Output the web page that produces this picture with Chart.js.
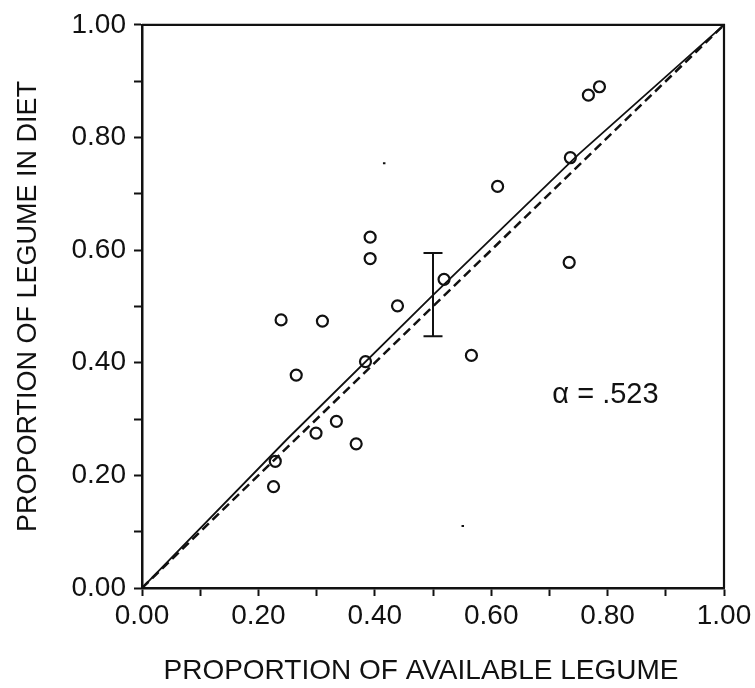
<!DOCTYPE html>
<html>
<head>
<meta charset="utf-8">
<script src="https://cdn.jsdelivr.net/npm/chart.js@4.4.1/dist/chart.umd.min.js"></script>
<style>
    body { margin:0; background:#fff; }
    #wrap { width:755px; height:688px; }
</style>
</head>
<body>
<div id="wrap"><canvas id="legumeChart" width="755" height="688"></canvas></div>
<script>

// one circle per sample: legume available vs legume in the diet
const available = [0.239, 0.310, 0.265, 0.384, 0.334, 0.299, 0.368, 0.229, 0.226, 0.439,
                   0.392, 0.392, 0.519, 0.611, 0.736, 0.767, 0.786, 0.734, 0.566]
const inDiet    = [0.476, 0.474, 0.378, 0.402, 0.296, 0.275, 0.256, 0.225, 0.180, 0.501,
                   0.623, 0.585, 0.548, 0.713, 0.764, 0.875, 0.890, 0.578, 0.413]

// solid fitted line and dashed 1:1 line
const fitX = [0, 0.25, 0.50, 0.75, 1]
const fitY = [0, 0.265, 0.52, 0.77, 1]
const equalX = [0, 1]
const equalY = [0, 1]

// mean with its error bar
const meanX = [0.50]
const barLow = [0.447]
const barHigh = [0.595]

// small stray marks on the print
const speckX = [0.414, 0.549]
const speckY = [0.754, 0.110]

const alphaText = 'α = .523'
const alphaX = 0.705
const alphaY = 0.342

const tickPositions = [0, 0.1, 0.2, 0.3, 0.4, 0.5, 0.6, 0.7, 0.8, 0.9, 1.0]
const tickLabels = ['0.00', '0.20', '0.40', '0.60', '0.80', '1.00']

const xTitle = 'PROPORTION OF AVAILABLE LEGUME'
const yTitle = 'PROPORTION OF LEGUME IN DIET'

const ink = '#111'
const fontFamily = '"Liberation Sans", Arial, Helvetica, sans-serif'

function toPoints(xs, ys) {
    return xs.map((x, i) => ({x:x, y:ys[i]}))
}

function tickLabel(value) {
    const s = Number(value).toFixed(2)
    return tickLabels.includes(s) ? s : ''
}

function axis(position, titleText) {
    const horizontal = position === 'bottom'
    return {
        type:'linear',
        position:position,
        min:0,
        max:1,
        afterBuildTicks:scale => {
            scale.ticks = tickPositions.map(v => ({value:v}))
        },
        afterFit:scale => {
            if(horizontal) {
                scale.height = 100
            } else {
                scale.width = 142
            }
        },
        grid:{
            drawOnChartArea:false,
            drawTicks:true,
            tickLength:8,
            tickWidth:2,
            tickColor:ink
        },
        border:{
            display:true,
            color:ink,
            width:2.5
        },
        ticks:{
            autoSkip:false,
            maxRotation:0,
            color:ink,
            padding:horizontal ? 3 : 8,
            font:{family:fontFamily, size:28},
            callback:tickLabel
        },
        title:{
            // the x title is drawn by the plugin below, a little left of centre
            display:!horizontal,
            text:titleText,
            color:ink,
            font:{family:fontFamily, size:27},
            padding:{top:12, bottom:0}
        }
    }
}

// closes the box on the top and right, draws the error bar, the alpha note and the x title
const extras = {
    id:'extras',
    afterDatasetsDraw(chart) {
        const {ctx, chartArea, scales:{x, y}} = chart
        ctx.save()
        ctx.strokeStyle = ink
        ctx.lineWidth = 2.2
        ctx.beginPath()
        ctx.moveTo(chartArea.left, chartArea.top)
        ctx.lineTo(chartArea.right, chartArea.top)
        ctx.lineTo(chartArea.right, chartArea.bottom)
        ctx.stroke()

        ctx.lineWidth = 2
        meanX.forEach((mx, i) => {
            const px = x.getPixelForValue(mx)
            const top = y.getPixelForValue(barHigh[i])
            const bottom = y.getPixelForValue(barLow[i])
            ctx.beginPath()
            ctx.moveTo(px, top)
            ctx.lineTo(px, bottom)
            ctx.moveTo(px - 9.5, top)
            ctx.lineTo(px + 9.5, top)
            ctx.moveTo(px - 9.5, bottom)
            ctx.lineTo(px + 9.5, bottom)
            ctx.stroke()
        })

        ctx.fillStyle = ink
        ctx.font = '29px ' + fontFamily
        ctx.textAlign = 'left'
        ctx.textBaseline = 'middle'
        ctx.fillText(alphaText, x.getPixelForValue(alphaX), y.getPixelForValue(alphaY))

        ctx.font = '28px ' + fontFamily
        ctx.textAlign = 'center'
        ctx.fillText(xTitle, (x.left + x.right) / 2 - 12, x.bottom - 17)
        ctx.restore()
    }
}

new Chart(document.getElementById('legumeChart'), {
    type:'scatter',
    data:{
        datasets:[
            {
                label:'Samples',
                data:toPoints(available, inDiet),
                pointStyle:'circle',
                pointRadius:5.5,
                borderWidth:2.2,
                borderColor:ink,
                backgroundColor:'rgba(0,0,0,0)',
                order:0
            },
            {
                label:'Fitted',
                data:toPoints(fitX, fitY),
                showLine:true,
                pointRadius:0,
                borderColor:ink,
                borderWidth:1.8,
                order:1
            },
            {
                label:'1:1',
                data:toPoints(equalX, equalY),
                showLine:true,
                pointRadius:0,
                borderColor:ink,
                borderWidth:2.5,
                borderDash:[9, 5],
                order:2
            },
            {
                label:'Specks',
                data:toPoints(speckX, speckY),
                pointStyle:'dash',
                pointRadius:2.5,
                borderWidth:2,
                borderColor:ink,
                order:3
            }
        ]
    },
    options:{
        responsive:false,
        animation:false,
        events:[],
        layout:{
            padding:{left:0, top:17, right:31, bottom:0}
        },
        plugins:{
            legend:{display:false},
            tooltip:{enabled:false}
        },
        scales:{
            x:axis('bottom', xTitle),
            y:axis('left', yTitle)
        }
    },
    plugins:[extras]
})

</script>
</body>
</html>
